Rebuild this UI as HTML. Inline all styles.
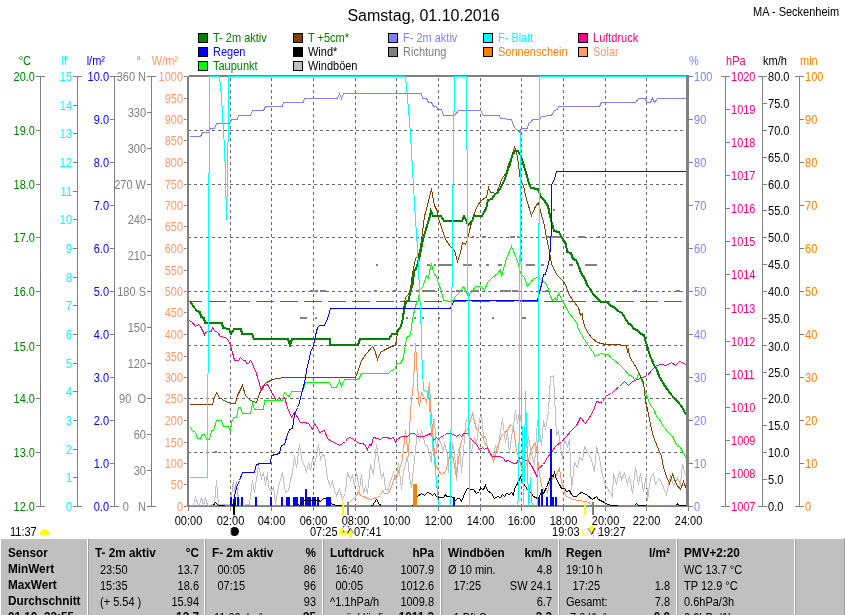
<!DOCTYPE html>
<html><head><meta charset="utf-8"><style>
html,body{margin:0;padding:0;background:#fff;}
polyline{shape-rendering:crispEdges;}
text{white-space:pre;}
svg{display:block;will-change:transform;font-family:"Liberation Sans", sans-serif;font-size:12px;}
</style></head><body>
<svg width="845" height="615" viewBox="0 0 845 615">
<text x="423.5" y="21" fill="#000" text-anchor="middle" font-size="16">Samstag, 01.10.2016</text>
<text transform="scale(0.9167 1)" x="821.45" y="16" fill="#000">MA - Seckenheim</text>
<rect x="198.5" y="33.5" width="9" height="9" fill="#008000" stroke="#000" stroke-width="1"/>
<text transform="scale(0.9167 1)" x="232.36" y="42" fill="#008000">T- 2m aktiv</text>
<rect x="198.5" y="47.5" width="9" height="9" fill="#0000ff" stroke="#000" stroke-width="1"/>
<text transform="scale(0.9167 1)" x="232.36" y="56" fill="#0000ff">Regen</text>
<rect x="198.5" y="61.5" width="9" height="9" fill="#00ff00" stroke="#000" stroke-width="1"/>
<text transform="scale(0.9167 1)" x="232.36" y="70" fill="#008000">Taupunkt</text>
<rect x="293.5" y="33.5" width="9" height="9" fill="#804000" stroke="#000" stroke-width="1"/>
<text transform="scale(0.9167 1)" x="336.00" y="42" fill="#008000">T +5cm*</text>
<rect x="293.5" y="47.5" width="9" height="9" fill="#000" stroke="#000" stroke-width="1"/>
<text transform="scale(0.9167 1)" x="336.00" y="56" fill="#000">Wind*</text>
<rect x="293.5" y="61.5" width="9" height="9" fill="#c0c0c0" stroke="#000" stroke-width="1"/>
<text transform="scale(0.9167 1)" x="336.00" y="70" fill="#000">Windböen</text>
<rect x="388.5" y="33.5" width="9" height="9" fill="#8080ff" stroke="#000" stroke-width="1"/>
<text transform="scale(0.9167 1)" x="439.64" y="42" fill="#8080ff">F- 2m aktiv</text>
<rect x="388.5" y="47.5" width="9" height="9" fill="#808080" stroke="#000" stroke-width="1"/>
<text transform="scale(0.9167 1)" x="439.64" y="56" fill="#808080">Richtung</text>
<rect x="483.5" y="33.5" width="9" height="9" fill="#00ffff" stroke="#000" stroke-width="1"/>
<text transform="scale(0.9167 1)" x="543.27" y="42" fill="#00ffff">F- Blatt</text>
<rect x="483.5" y="47.5" width="9" height="9" fill="#ff8000" stroke="#000" stroke-width="1"/>
<text transform="scale(0.9167 1)" x="543.27" y="56" fill="#ff8000">Sonnenschein</text>
<rect x="578.5" y="33.5" width="9" height="9" fill="#ff0080" stroke="#000" stroke-width="1"/>
<text transform="scale(0.9167 1)" x="646.91" y="42" fill="#ff0080">Luftdruck</text>
<rect x="578.5" y="47.5" width="9" height="9" fill="#ff9966" stroke="#000" stroke-width="1"/>
<text transform="scale(0.9167 1)" x="646.91" y="56" fill="#ff9966">Solar</text>
<text transform="scale(0.9167 1)" x="33.82" y="65" fill="#008000" text-anchor="end">°C</text>
<text transform="scale(0.9167 1)" x="73.09" y="65" fill="#00ffff" text-anchor="end">lf</text>
<text transform="scale(0.9167 1)" x="114.55" y="65" fill="#0000ff" text-anchor="end">l/m²</text>
<text transform="scale(0.9167 1)" x="153.82" y="65" fill="#808080" text-anchor="end">°</text>
<text transform="scale(0.9167 1)" x="194.18" y="65" fill="#ff9966" text-anchor="end">W/m²</text>
<text transform="scale(0.9167 1)" x="751.64" y="65" fill="#8080ff">%</text>
<text transform="scale(0.9167 1)" x="792.00" y="65" fill="#ff0080">hPa</text>
<text transform="scale(0.9167 1)" x="832.36" y="65" fill="#000">km/h</text>
<text transform="scale(0.9167 1)" x="872.73" y="65" fill="#ff8000">min</text>
<line x1="40.5" y1="76" x2="40.5" y2="507" stroke="#808080" stroke-width="1"/>
<line x1="36" y1="76.5" x2="45" y2="76.5" stroke="#808080" stroke-width="1"/>
<text transform="scale(0.9167 1)" x="38.18" y="81.5" fill="#008000" text-anchor="end">20.0</text>
<line x1="36" y1="130.5" x2="40.5" y2="130.5" stroke="#808080" stroke-width="1"/>
<text transform="scale(0.9167 1)" x="38.18" y="135.5" fill="#008000" text-anchor="end">19.0</text>
<line x1="36" y1="184.5" x2="40.5" y2="184.5" stroke="#808080" stroke-width="1"/>
<text transform="scale(0.9167 1)" x="38.18" y="189.5" fill="#008000" text-anchor="end">18.0</text>
<line x1="36" y1="237.5" x2="40.5" y2="237.5" stroke="#808080" stroke-width="1"/>
<text transform="scale(0.9167 1)" x="38.18" y="242.5" fill="#008000" text-anchor="end">17.0</text>
<line x1="36" y1="291.5" x2="40.5" y2="291.5" stroke="#808080" stroke-width="1"/>
<text transform="scale(0.9167 1)" x="38.18" y="296.5" fill="#008000" text-anchor="end">16.0</text>
<line x1="36" y1="345.5" x2="40.5" y2="345.5" stroke="#808080" stroke-width="1"/>
<text transform="scale(0.9167 1)" x="38.18" y="350.5" fill="#008000" text-anchor="end">15.0</text>
<line x1="36" y1="398.5" x2="40.5" y2="398.5" stroke="#808080" stroke-width="1"/>
<text transform="scale(0.9167 1)" x="38.18" y="403.5" fill="#008000" text-anchor="end">14.0</text>
<line x1="36" y1="452.5" x2="40.5" y2="452.5" stroke="#808080" stroke-width="1"/>
<text transform="scale(0.9167 1)" x="38.18" y="457.5" fill="#008000" text-anchor="end">13.0</text>
<line x1="36" y1="506.5" x2="45" y2="506.5" stroke="#808080" stroke-width="1"/>
<text transform="scale(0.9167 1)" x="38.18" y="511.5" fill="#008000" text-anchor="end">12.0</text>
<line x1="77.5" y1="76" x2="77.5" y2="507" stroke="#808080" stroke-width="1"/>
<line x1="73" y1="76.5" x2="82" y2="76.5" stroke="#808080" stroke-width="1"/>
<text transform="scale(0.9167 1)" x="78.55" y="81.5" fill="#00ffff" text-anchor="end">15</text>
<line x1="73" y1="105.5" x2="77.5" y2="105.5" stroke="#808080" stroke-width="1"/>
<text transform="scale(0.9167 1)" x="78.55" y="110.5" fill="#00ffff" text-anchor="end">14</text>
<line x1="73" y1="133.5" x2="77.5" y2="133.5" stroke="#808080" stroke-width="1"/>
<text transform="scale(0.9167 1)" x="78.55" y="138.5" fill="#00ffff" text-anchor="end">13</text>
<line x1="73" y1="162.5" x2="77.5" y2="162.5" stroke="#808080" stroke-width="1"/>
<text transform="scale(0.9167 1)" x="78.55" y="167.5" fill="#00ffff" text-anchor="end">12</text>
<line x1="73" y1="191.5" x2="77.5" y2="191.5" stroke="#808080" stroke-width="1"/>
<text transform="scale(0.9167 1)" x="78.55" y="196.5" fill="#00ffff" text-anchor="end">11</text>
<line x1="73" y1="219.5" x2="77.5" y2="219.5" stroke="#808080" stroke-width="1"/>
<text transform="scale(0.9167 1)" x="78.55" y="224.5" fill="#00ffff" text-anchor="end">10</text>
<line x1="73" y1="248.5" x2="77.5" y2="248.5" stroke="#808080" stroke-width="1"/>
<text transform="scale(0.9167 1)" x="78.55" y="253.5" fill="#00ffff" text-anchor="end">9</text>
<line x1="73" y1="277.5" x2="77.5" y2="277.5" stroke="#808080" stroke-width="1"/>
<text transform="scale(0.9167 1)" x="78.55" y="282.5" fill="#00ffff" text-anchor="end">8</text>
<line x1="73" y1="305.5" x2="77.5" y2="305.5" stroke="#808080" stroke-width="1"/>
<text transform="scale(0.9167 1)" x="78.55" y="310.5" fill="#00ffff" text-anchor="end">7</text>
<line x1="73" y1="334.5" x2="77.5" y2="334.5" stroke="#808080" stroke-width="1"/>
<text transform="scale(0.9167 1)" x="78.55" y="339.5" fill="#00ffff" text-anchor="end">6</text>
<line x1="73" y1="363.5" x2="77.5" y2="363.5" stroke="#808080" stroke-width="1"/>
<text transform="scale(0.9167 1)" x="78.55" y="368.5" fill="#00ffff" text-anchor="end">5</text>
<line x1="73" y1="391.5" x2="77.5" y2="391.5" stroke="#808080" stroke-width="1"/>
<text transform="scale(0.9167 1)" x="78.55" y="396.5" fill="#00ffff" text-anchor="end">4</text>
<line x1="73" y1="420.5" x2="77.5" y2="420.5" stroke="#808080" stroke-width="1"/>
<text transform="scale(0.9167 1)" x="78.55" y="425.5" fill="#00ffff" text-anchor="end">3</text>
<line x1="73" y1="449.5" x2="77.5" y2="449.5" stroke="#808080" stroke-width="1"/>
<text transform="scale(0.9167 1)" x="78.55" y="454.5" fill="#00ffff" text-anchor="end">2</text>
<line x1="73" y1="477.5" x2="77.5" y2="477.5" stroke="#808080" stroke-width="1"/>
<text transform="scale(0.9167 1)" x="78.55" y="482.5" fill="#00ffff" text-anchor="end">1</text>
<line x1="73" y1="506.5" x2="82" y2="506.5" stroke="#808080" stroke-width="1"/>
<text transform="scale(0.9167 1)" x="78.55" y="511.5" fill="#00ffff" text-anchor="end">0</text>
<line x1="114.5" y1="76" x2="114.5" y2="507" stroke="#808080" stroke-width="1"/>
<line x1="110" y1="76.5" x2="119" y2="76.5" stroke="#808080" stroke-width="1"/>
<text transform="scale(0.9167 1)" x="118.91" y="81.5" fill="#0000ff" text-anchor="end">10.0</text>
<line x1="110" y1="119.5" x2="114.5" y2="119.5" stroke="#808080" stroke-width="1"/>
<text transform="scale(0.9167 1)" x="118.91" y="124.5" fill="#0000ff" text-anchor="end">9.0</text>
<line x1="110" y1="162.5" x2="114.5" y2="162.5" stroke="#808080" stroke-width="1"/>
<text transform="scale(0.9167 1)" x="118.91" y="167.5" fill="#0000ff" text-anchor="end">8.0</text>
<line x1="110" y1="205.5" x2="114.5" y2="205.5" stroke="#808080" stroke-width="1"/>
<text transform="scale(0.9167 1)" x="118.91" y="210.5" fill="#0000ff" text-anchor="end">7.0</text>
<line x1="110" y1="248.5" x2="114.5" y2="248.5" stroke="#808080" stroke-width="1"/>
<text transform="scale(0.9167 1)" x="118.91" y="253.5" fill="#0000ff" text-anchor="end">6.0</text>
<line x1="110" y1="291.5" x2="114.5" y2="291.5" stroke="#808080" stroke-width="1"/>
<text transform="scale(0.9167 1)" x="118.91" y="296.5" fill="#0000ff" text-anchor="end">5.0</text>
<line x1="110" y1="334.5" x2="114.5" y2="334.5" stroke="#808080" stroke-width="1"/>
<text transform="scale(0.9167 1)" x="118.91" y="339.5" fill="#0000ff" text-anchor="end">4.0</text>
<line x1="110" y1="377.5" x2="114.5" y2="377.5" stroke="#808080" stroke-width="1"/>
<text transform="scale(0.9167 1)" x="118.91" y="382.5" fill="#0000ff" text-anchor="end">3.0</text>
<line x1="110" y1="420.5" x2="114.5" y2="420.5" stroke="#808080" stroke-width="1"/>
<text transform="scale(0.9167 1)" x="118.91" y="425.5" fill="#0000ff" text-anchor="end">2.0</text>
<line x1="110" y1="463.5" x2="114.5" y2="463.5" stroke="#808080" stroke-width="1"/>
<text transform="scale(0.9167 1)" x="118.91" y="468.5" fill="#0000ff" text-anchor="end">1.0</text>
<line x1="110" y1="506.5" x2="119" y2="506.5" stroke="#808080" stroke-width="1"/>
<text transform="scale(0.9167 1)" x="118.91" y="511.5" fill="#0000ff" text-anchor="end">0.0</text>
<line x1="151.5" y1="76" x2="151.5" y2="507" stroke="#808080" stroke-width="1"/>
<line x1="147" y1="76.5" x2="156" y2="76.5" stroke="#808080" stroke-width="1"/>
<text transform="scale(0.9167 1)" x="159.27" y="81.5" fill="#808080" text-anchor="end">360 N</text>
<line x1="147" y1="112.5" x2="151.5" y2="112.5" stroke="#808080" stroke-width="1"/>
<text transform="scale(0.9167 1)" x="159.27" y="117.5" fill="#808080" text-anchor="end">330</text>
<line x1="147" y1="148.5" x2="151.5" y2="148.5" stroke="#808080" stroke-width="1"/>
<text transform="scale(0.9167 1)" x="159.27" y="153.5" fill="#808080" text-anchor="end">300</text>
<line x1="147" y1="184.5" x2="151.5" y2="184.5" stroke="#808080" stroke-width="1"/>
<text transform="scale(0.9167 1)" x="159.27" y="189.5" fill="#808080" text-anchor="end">270 W</text>
<line x1="147" y1="219.5" x2="151.5" y2="219.5" stroke="#808080" stroke-width="1"/>
<text transform="scale(0.9167 1)" x="159.27" y="224.5" fill="#808080" text-anchor="end">240</text>
<line x1="147" y1="255.5" x2="151.5" y2="255.5" stroke="#808080" stroke-width="1"/>
<text transform="scale(0.9167 1)" x="159.27" y="260.5" fill="#808080" text-anchor="end">210</text>
<line x1="147" y1="291.5" x2="151.5" y2="291.5" stroke="#808080" stroke-width="1"/>
<text transform="scale(0.9167 1)" x="159.27" y="296.5" fill="#808080" text-anchor="end">180 S</text>
<line x1="147" y1="327.5" x2="151.5" y2="327.5" stroke="#808080" stroke-width="1"/>
<text transform="scale(0.9167 1)" x="159.27" y="332.5" fill="#808080" text-anchor="end">150</text>
<line x1="147" y1="363.5" x2="151.5" y2="363.5" stroke="#808080" stroke-width="1"/>
<text transform="scale(0.9167 1)" x="159.27" y="368.5" fill="#808080" text-anchor="end">120</text>
<line x1="147" y1="398.5" x2="151.5" y2="398.5" stroke="#808080" stroke-width="1"/>
<text transform="scale(0.9167 1)" x="159.27" y="403.5" fill="#808080" text-anchor="end">90  O</text>
<line x1="147" y1="434.5" x2="151.5" y2="434.5" stroke="#808080" stroke-width="1"/>
<text transform="scale(0.9167 1)" x="159.27" y="439.5" fill="#808080" text-anchor="end">60</text>
<line x1="147" y1="470.5" x2="151.5" y2="470.5" stroke="#808080" stroke-width="1"/>
<text transform="scale(0.9167 1)" x="159.27" y="475.5" fill="#808080" text-anchor="end">30</text>
<line x1="147" y1="506.5" x2="156" y2="506.5" stroke="#808080" stroke-width="1"/>
<text transform="scale(0.9167 1)" x="159.27" y="511.5" fill="#808080" text-anchor="end">0   N</text>
<line x1="184" y1="76.5" x2="186.5" y2="76.5" stroke="#808080" stroke-width="1"/>
<text transform="scale(0.9167 1)" x="199.64" y="81.5" fill="#ff9966" text-anchor="end">1000</text>
<line x1="184" y1="98.5" x2="186.5" y2="98.5" stroke="#808080" stroke-width="1"/>
<text transform="scale(0.9167 1)" x="199.64" y="103.5" fill="#ff9966" text-anchor="end">950</text>
<line x1="184" y1="119.5" x2="186.5" y2="119.5" stroke="#808080" stroke-width="1"/>
<text transform="scale(0.9167 1)" x="199.64" y="124.5" fill="#ff9966" text-anchor="end">900</text>
<line x1="184" y1="140.5" x2="186.5" y2="140.5" stroke="#808080" stroke-width="1"/>
<text transform="scale(0.9167 1)" x="199.64" y="145.5" fill="#ff9966" text-anchor="end">850</text>
<line x1="184" y1="162.5" x2="186.5" y2="162.5" stroke="#808080" stroke-width="1"/>
<text transform="scale(0.9167 1)" x="199.64" y="167.5" fill="#ff9966" text-anchor="end">800</text>
<line x1="184" y1="184.5" x2="186.5" y2="184.5" stroke="#808080" stroke-width="1"/>
<text transform="scale(0.9167 1)" x="199.64" y="189.5" fill="#ff9966" text-anchor="end">750</text>
<line x1="184" y1="205.5" x2="186.5" y2="205.5" stroke="#808080" stroke-width="1"/>
<text transform="scale(0.9167 1)" x="199.64" y="210.5" fill="#ff9966" text-anchor="end">700</text>
<line x1="184" y1="226.5" x2="186.5" y2="226.5" stroke="#808080" stroke-width="1"/>
<text transform="scale(0.9167 1)" x="199.64" y="231.5" fill="#ff9966" text-anchor="end">650</text>
<line x1="184" y1="248.5" x2="186.5" y2="248.5" stroke="#808080" stroke-width="1"/>
<text transform="scale(0.9167 1)" x="199.64" y="253.5" fill="#ff9966" text-anchor="end">600</text>
<line x1="184" y1="270.5" x2="186.5" y2="270.5" stroke="#808080" stroke-width="1"/>
<text transform="scale(0.9167 1)" x="199.64" y="275.5" fill="#ff9966" text-anchor="end">550</text>
<line x1="184" y1="291.5" x2="186.5" y2="291.5" stroke="#808080" stroke-width="1"/>
<text transform="scale(0.9167 1)" x="199.64" y="296.5" fill="#ff9966" text-anchor="end">500</text>
<line x1="184" y1="312.5" x2="186.5" y2="312.5" stroke="#808080" stroke-width="1"/>
<text transform="scale(0.9167 1)" x="199.64" y="317.5" fill="#ff9966" text-anchor="end">450</text>
<line x1="184" y1="334.5" x2="186.5" y2="334.5" stroke="#808080" stroke-width="1"/>
<text transform="scale(0.9167 1)" x="199.64" y="339.5" fill="#ff9966" text-anchor="end">400</text>
<line x1="184" y1="356.5" x2="186.5" y2="356.5" stroke="#808080" stroke-width="1"/>
<text transform="scale(0.9167 1)" x="199.64" y="361.5" fill="#ff9966" text-anchor="end">350</text>
<line x1="184" y1="377.5" x2="186.5" y2="377.5" stroke="#808080" stroke-width="1"/>
<text transform="scale(0.9167 1)" x="199.64" y="382.5" fill="#ff9966" text-anchor="end">300</text>
<line x1="184" y1="398.5" x2="186.5" y2="398.5" stroke="#808080" stroke-width="1"/>
<text transform="scale(0.9167 1)" x="199.64" y="403.5" fill="#ff9966" text-anchor="end">250</text>
<line x1="184" y1="420.5" x2="186.5" y2="420.5" stroke="#808080" stroke-width="1"/>
<text transform="scale(0.9167 1)" x="199.64" y="425.5" fill="#ff9966" text-anchor="end">200</text>
<line x1="184" y1="442.5" x2="186.5" y2="442.5" stroke="#808080" stroke-width="1"/>
<text transform="scale(0.9167 1)" x="199.64" y="447.5" fill="#ff9966" text-anchor="end">150</text>
<line x1="184" y1="463.5" x2="186.5" y2="463.5" stroke="#808080" stroke-width="1"/>
<text transform="scale(0.9167 1)" x="199.64" y="468.5" fill="#ff9966" text-anchor="end">100</text>
<line x1="184" y1="484.5" x2="186.5" y2="484.5" stroke="#808080" stroke-width="1"/>
<text transform="scale(0.9167 1)" x="199.64" y="489.5" fill="#ff9966" text-anchor="end">50</text>
<line x1="184" y1="506.5" x2="186.5" y2="506.5" stroke="#808080" stroke-width="1"/>
<text transform="scale(0.9167 1)" x="199.64" y="511.5" fill="#ff9966" text-anchor="end">0</text>
<line x1="687.5" y1="76.5" x2="693" y2="76.5" stroke="#808080" stroke-width="1"/>
<text transform="scale(0.9167 1)" x="757.09" y="81.5" fill="#8080ff">100</text>
<line x1="687.5" y1="119.5" x2="693" y2="119.5" stroke="#808080" stroke-width="1"/>
<text transform="scale(0.9167 1)" x="757.09" y="124.5" fill="#8080ff">90</text>
<line x1="687.5" y1="162.5" x2="693" y2="162.5" stroke="#808080" stroke-width="1"/>
<text transform="scale(0.9167 1)" x="757.09" y="167.5" fill="#8080ff">80</text>
<line x1="687.5" y1="205.5" x2="693" y2="205.5" stroke="#808080" stroke-width="1"/>
<text transform="scale(0.9167 1)" x="757.09" y="210.5" fill="#8080ff">70</text>
<line x1="687.5" y1="248.5" x2="693" y2="248.5" stroke="#808080" stroke-width="1"/>
<text transform="scale(0.9167 1)" x="757.09" y="253.5" fill="#8080ff">60</text>
<line x1="687.5" y1="291.5" x2="693" y2="291.5" stroke="#808080" stroke-width="1"/>
<text transform="scale(0.9167 1)" x="757.09" y="296.5" fill="#8080ff">50</text>
<line x1="687.5" y1="334.5" x2="693" y2="334.5" stroke="#808080" stroke-width="1"/>
<text transform="scale(0.9167 1)" x="757.09" y="339.5" fill="#8080ff">40</text>
<line x1="687.5" y1="377.5" x2="693" y2="377.5" stroke="#808080" stroke-width="1"/>
<text transform="scale(0.9167 1)" x="757.09" y="382.5" fill="#8080ff">30</text>
<line x1="687.5" y1="420.5" x2="693" y2="420.5" stroke="#808080" stroke-width="1"/>
<text transform="scale(0.9167 1)" x="757.09" y="425.5" fill="#8080ff">20</text>
<line x1="687.5" y1="463.5" x2="693" y2="463.5" stroke="#808080" stroke-width="1"/>
<text transform="scale(0.9167 1)" x="757.09" y="468.5" fill="#8080ff">10</text>
<line x1="687.5" y1="506.5" x2="693" y2="506.5" stroke="#808080" stroke-width="1"/>
<text transform="scale(0.9167 1)" x="757.09" y="511.5" fill="#8080ff">0</text>
<line x1="725.5" y1="76" x2="725.5" y2="507" stroke="#808080" stroke-width="1"/>
<line x1="721" y1="76.5" x2="730" y2="76.5" stroke="#808080" stroke-width="1"/>
<text transform="scale(0.9167 1)" x="797.45" y="81.5" fill="#ff0080">1020</text>
<line x1="725.5" y1="109.5" x2="730" y2="109.5" stroke="#808080" stroke-width="1"/>
<text transform="scale(0.9167 1)" x="797.45" y="114.5" fill="#ff0080">1019</text>
<line x1="725.5" y1="142.5" x2="730" y2="142.5" stroke="#808080" stroke-width="1"/>
<text transform="scale(0.9167 1)" x="797.45" y="147.5" fill="#ff0080">1018</text>
<line x1="725.5" y1="175.5" x2="730" y2="175.5" stroke="#808080" stroke-width="1"/>
<text transform="scale(0.9167 1)" x="797.45" y="180.5" fill="#ff0080">1017</text>
<line x1="725.5" y1="208.5" x2="730" y2="208.5" stroke="#808080" stroke-width="1"/>
<text transform="scale(0.9167 1)" x="797.45" y="213.5" fill="#ff0080">1016</text>
<line x1="725.5" y1="241.5" x2="730" y2="241.5" stroke="#808080" stroke-width="1"/>
<text transform="scale(0.9167 1)" x="797.45" y="246.5" fill="#ff0080">1015</text>
<line x1="725.5" y1="274.5" x2="730" y2="274.5" stroke="#808080" stroke-width="1"/>
<text transform="scale(0.9167 1)" x="797.45" y="279.5" fill="#ff0080">1014</text>
<line x1="725.5" y1="308.5" x2="730" y2="308.5" stroke="#808080" stroke-width="1"/>
<text transform="scale(0.9167 1)" x="797.45" y="313.5" fill="#ff0080">1013</text>
<line x1="725.5" y1="341.5" x2="730" y2="341.5" stroke="#808080" stroke-width="1"/>
<text transform="scale(0.9167 1)" x="797.45" y="346.5" fill="#ff0080">1012</text>
<line x1="725.5" y1="374.5" x2="730" y2="374.5" stroke="#808080" stroke-width="1"/>
<text transform="scale(0.9167 1)" x="797.45" y="379.5" fill="#ff0080">1011</text>
<line x1="725.5" y1="407.5" x2="730" y2="407.5" stroke="#808080" stroke-width="1"/>
<text transform="scale(0.9167 1)" x="797.45" y="412.5" fill="#ff0080">1010</text>
<line x1="725.5" y1="440.5" x2="730" y2="440.5" stroke="#808080" stroke-width="1"/>
<text transform="scale(0.9167 1)" x="797.45" y="445.5" fill="#ff0080">1009</text>
<line x1="725.5" y1="473.5" x2="730" y2="473.5" stroke="#808080" stroke-width="1"/>
<text transform="scale(0.9167 1)" x="797.45" y="478.5" fill="#ff0080">1008</text>
<line x1="721" y1="506.5" x2="730" y2="506.5" stroke="#808080" stroke-width="1"/>
<text transform="scale(0.9167 1)" x="797.45" y="511.5" fill="#ff0080">1007</text>
<line x1="762.5" y1="76" x2="762.5" y2="507" stroke="#808080" stroke-width="1"/>
<line x1="758" y1="76.5" x2="767" y2="76.5" stroke="#808080" stroke-width="1"/>
<text transform="scale(0.9167 1)" x="837.82" y="81.5" fill="#000">80.0</text>
<line x1="762.5" y1="103.5" x2="767" y2="103.5" stroke="#808080" stroke-width="1"/>
<text transform="scale(0.9167 1)" x="837.82" y="108.5" fill="#000">75.0</text>
<line x1="762.5" y1="130.5" x2="767" y2="130.5" stroke="#808080" stroke-width="1"/>
<text transform="scale(0.9167 1)" x="837.82" y="135.5" fill="#000">70.0</text>
<line x1="762.5" y1="157.5" x2="767" y2="157.5" stroke="#808080" stroke-width="1"/>
<text transform="scale(0.9167 1)" x="837.82" y="162.5" fill="#000">65.0</text>
<line x1="762.5" y1="184.5" x2="767" y2="184.5" stroke="#808080" stroke-width="1"/>
<text transform="scale(0.9167 1)" x="837.82" y="189.5" fill="#000">60.0</text>
<line x1="762.5" y1="210.5" x2="767" y2="210.5" stroke="#808080" stroke-width="1"/>
<text transform="scale(0.9167 1)" x="837.82" y="215.5" fill="#000">55.0</text>
<line x1="762.5" y1="237.5" x2="767" y2="237.5" stroke="#808080" stroke-width="1"/>
<text transform="scale(0.9167 1)" x="837.82" y="242.5" fill="#000">50.0</text>
<line x1="762.5" y1="264.5" x2="767" y2="264.5" stroke="#808080" stroke-width="1"/>
<text transform="scale(0.9167 1)" x="837.82" y="269.5" fill="#000">45.0</text>
<line x1="762.5" y1="291.5" x2="767" y2="291.5" stroke="#808080" stroke-width="1"/>
<text transform="scale(0.9167 1)" x="837.82" y="296.5" fill="#000">40.0</text>
<line x1="762.5" y1="318.5" x2="767" y2="318.5" stroke="#808080" stroke-width="1"/>
<text transform="scale(0.9167 1)" x="837.82" y="323.5" fill="#000">35.0</text>
<line x1="762.5" y1="345.5" x2="767" y2="345.5" stroke="#808080" stroke-width="1"/>
<text transform="scale(0.9167 1)" x="837.82" y="350.5" fill="#000">30.0</text>
<line x1="762.5" y1="372.5" x2="767" y2="372.5" stroke="#808080" stroke-width="1"/>
<text transform="scale(0.9167 1)" x="837.82" y="377.5" fill="#000">25.0</text>
<line x1="762.5" y1="398.5" x2="767" y2="398.5" stroke="#808080" stroke-width="1"/>
<text transform="scale(0.9167 1)" x="837.82" y="403.5" fill="#000">20.0</text>
<line x1="762.5" y1="425.5" x2="767" y2="425.5" stroke="#808080" stroke-width="1"/>
<text transform="scale(0.9167 1)" x="837.82" y="430.5" fill="#000">15.0</text>
<line x1="762.5" y1="452.5" x2="767" y2="452.5" stroke="#808080" stroke-width="1"/>
<text transform="scale(0.9167 1)" x="837.82" y="457.5" fill="#000">10.0</text>
<line x1="762.5" y1="479.5" x2="767" y2="479.5" stroke="#808080" stroke-width="1"/>
<text transform="scale(0.9167 1)" x="837.82" y="484.5" fill="#000">5.0</text>
<line x1="758" y1="506.5" x2="767" y2="506.5" stroke="#808080" stroke-width="1"/>
<text transform="scale(0.9167 1)" x="837.82" y="511.5" fill="#000">0.0</text>
<line x1="799.5" y1="76" x2="799.5" y2="507" stroke="#808080" stroke-width="1"/>
<line x1="795" y1="76.5" x2="804" y2="76.5" stroke="#808080" stroke-width="1"/>
<text transform="scale(0.9167 1)" x="878.18" y="81.5" fill="#ff8000">100</text>
<line x1="799.5" y1="119.5" x2="804" y2="119.5" stroke="#808080" stroke-width="1"/>
<text transform="scale(0.9167 1)" x="878.18" y="124.5" fill="#ff8000">90</text>
<line x1="799.5" y1="162.5" x2="804" y2="162.5" stroke="#808080" stroke-width="1"/>
<text transform="scale(0.9167 1)" x="878.18" y="167.5" fill="#ff8000">80</text>
<line x1="799.5" y1="205.5" x2="804" y2="205.5" stroke="#808080" stroke-width="1"/>
<text transform="scale(0.9167 1)" x="878.18" y="210.5" fill="#ff8000">70</text>
<line x1="799.5" y1="248.5" x2="804" y2="248.5" stroke="#808080" stroke-width="1"/>
<text transform="scale(0.9167 1)" x="878.18" y="253.5" fill="#ff8000">60</text>
<line x1="799.5" y1="291.5" x2="804" y2="291.5" stroke="#808080" stroke-width="1"/>
<text transform="scale(0.9167 1)" x="878.18" y="296.5" fill="#ff8000">50</text>
<line x1="799.5" y1="334.5" x2="804" y2="334.5" stroke="#808080" stroke-width="1"/>
<text transform="scale(0.9167 1)" x="878.18" y="339.5" fill="#ff8000">40</text>
<line x1="799.5" y1="377.5" x2="804" y2="377.5" stroke="#808080" stroke-width="1"/>
<text transform="scale(0.9167 1)" x="878.18" y="382.5" fill="#ff8000">30</text>
<line x1="799.5" y1="420.5" x2="804" y2="420.5" stroke="#808080" stroke-width="1"/>
<text transform="scale(0.9167 1)" x="878.18" y="425.5" fill="#ff8000">20</text>
<line x1="799.5" y1="463.5" x2="804" y2="463.5" stroke="#808080" stroke-width="1"/>
<text transform="scale(0.9167 1)" x="878.18" y="468.5" fill="#ff8000">10</text>
<line x1="795" y1="506.5" x2="804" y2="506.5" stroke="#808080" stroke-width="1"/>
<text transform="scale(0.9167 1)" x="878.18" y="511.5" fill="#ff8000">0</text>
<rect x="189" y="77" width="497" height="429" fill="#fff"/>
<line x1="189" y1="130.5" x2="686" y2="130.5" stroke="#686868" stroke-width="1" stroke-dasharray="3,3" stroke-dashoffset="1"/>
<line x1="189" y1="184.5" x2="686" y2="184.5" stroke="#686868" stroke-width="1" stroke-dasharray="3,3" stroke-dashoffset="1"/>
<line x1="189" y1="237.5" x2="686" y2="237.5" stroke="#686868" stroke-width="1" stroke-dasharray="3,3" stroke-dashoffset="1"/>
<line x1="189" y1="291.5" x2="686" y2="291.5" stroke="#686868" stroke-width="1" stroke-dasharray="3,3" stroke-dashoffset="1"/>
<line x1="189" y1="345.5" x2="686" y2="345.5" stroke="#686868" stroke-width="1" stroke-dasharray="3,3" stroke-dashoffset="1"/>
<line x1="189" y1="398.5" x2="686" y2="398.5" stroke="#686868" stroke-width="1" stroke-dasharray="3,3" stroke-dashoffset="1"/>
<line x1="189" y1="452.5" x2="686" y2="452.5" stroke="#686868" stroke-width="1" stroke-dasharray="3,3" stroke-dashoffset="1"/>
<line x1="230.5" y1="77" x2="230.5" y2="505" stroke="#686868" stroke-width="1" stroke-dasharray="3,3" stroke-dashoffset="5"/>
<line x1="271.5" y1="77" x2="271.5" y2="505" stroke="#686868" stroke-width="1" stroke-dasharray="3,3" stroke-dashoffset="5"/>
<line x1="313.5" y1="77" x2="313.5" y2="505" stroke="#686868" stroke-width="1" stroke-dasharray="3,3" stroke-dashoffset="5"/>
<line x1="355.5" y1="77" x2="355.5" y2="505" stroke="#686868" stroke-width="1" stroke-dasharray="3,3" stroke-dashoffset="5"/>
<line x1="396.5" y1="77" x2="396.5" y2="505" stroke="#686868" stroke-width="1" stroke-dasharray="3,3" stroke-dashoffset="5"/>
<line x1="438.5" y1="77" x2="438.5" y2="505" stroke="#686868" stroke-width="1" stroke-dasharray="3,3" stroke-dashoffset="5"/>
<line x1="480.5" y1="77" x2="480.5" y2="505" stroke="#686868" stroke-width="1" stroke-dasharray="3,3" stroke-dashoffset="5"/>
<line x1="521.5" y1="77" x2="521.5" y2="505" stroke="#686868" stroke-width="1" stroke-dasharray="3,3" stroke-dashoffset="5"/>
<line x1="563.5" y1="77" x2="563.5" y2="505" stroke="#686868" stroke-width="1" stroke-dasharray="3,3" stroke-dashoffset="5"/>
<line x1="605.5" y1="77" x2="605.5" y2="505" stroke="#686868" stroke-width="1" stroke-dasharray="3,3" stroke-dashoffset="5"/>
<line x1="646.5" y1="77" x2="646.5" y2="505" stroke="#686868" stroke-width="1" stroke-dasharray="3,3" stroke-dashoffset="5"/>
<rect x="187" y="76" width="2" height="431" fill="#808080"/>
<rect x="189" y="75" width="499" height="2" fill="#808080"/>
<rect x="187" y="505" width="501" height="2" fill="#808080"/>
<defs><clipPath id="pc"><rect x="189" y="76" width="497" height="430"/></clipPath></defs>
<g clip-path="url(#pc)">
<rect x="472" y="236" width="2" height="2" fill="#808080"/>
<rect x="482" y="236" width="4" height="2" fill="#808080"/>
<rect x="510" y="236" width="5" height="2" fill="#808080"/>
<rect x="517" y="236" width="2" height="2" fill="#808080"/>
<rect x="547" y="236" width="15" height="2" fill="#808080"/>
<rect x="578" y="236" width="7" height="2" fill="#808080"/>
<rect x="598" y="236" width="2" height="2" fill="#808080"/>
<rect x="376" y="264" width="2" height="2" fill="#808080"/>
<rect x="427" y="264" width="3" height="2" fill="#808080"/>
<rect x="434" y="264" width="2" height="2" fill="#808080"/>
<rect x="438" y="264" width="15" height="2" fill="#808080"/>
<rect x="463" y="264" width="4" height="2" fill="#808080"/>
<rect x="468" y="264" width="4" height="2" fill="#808080"/>
<rect x="479" y="264" width="2" height="2" fill="#808080"/>
<rect x="486" y="264" width="3" height="2" fill="#808080"/>
<rect x="498" y="264" width="4" height="2" fill="#808080"/>
<rect x="526" y="264" width="9" height="2" fill="#808080"/>
<rect x="541" y="264" width="3" height="2" fill="#808080"/>
<rect x="569" y="264" width="4" height="2" fill="#808080"/>
<rect x="577" y="264" width="2" height="2" fill="#808080"/>
<rect x="585" y="264" width="12" height="2" fill="#808080"/>
<rect x="310" y="290" width="3" height="2" fill="#808080"/>
<rect x="315" y="290" width="3" height="2" fill="#808080"/>
<rect x="320" y="290" width="6" height="2" fill="#808080"/>
<rect x="374" y="290" width="3" height="2" fill="#808080"/>
<rect x="393" y="290" width="3" height="2" fill="#808080"/>
<rect x="416" y="290" width="4" height="2" fill="#808080"/>
<rect x="422" y="290" width="13" height="2" fill="#808080"/>
<rect x="456" y="290" width="7" height="2" fill="#808080"/>
<rect x="471" y="290" width="8" height="2" fill="#808080"/>
<rect x="500" y="290" width="11" height="2" fill="#808080"/>
<rect x="512" y="290" width="6" height="2" fill="#808080"/>
<rect x="545" y="290" width="3" height="2" fill="#808080"/>
<rect x="634" y="290" width="3" height="2" fill="#808080"/>
<rect x="676" y="290" width="4" height="2" fill="#808080"/>
<rect x="300" y="317" width="7" height="2" fill="#808080"/>
<rect x="315" y="317" width="2" height="2" fill="#808080"/>
<rect x="406" y="317" width="2" height="2" fill="#808080"/>
<rect x="414" y="317" width="2" height="2" fill="#808080"/>
<rect x="422" y="317" width="2" height="2" fill="#808080"/>
<rect x="438" y="317" width="2" height="2" fill="#808080"/>
<rect x="492" y="317" width="2" height="2" fill="#808080"/>
<rect x="521" y="317" width="5" height="2" fill="#808080"/>
<rect x="553" y="209" width="2" height="2" fill="#808080"/>
<rect x="214" y="451" width="3" height="2" fill="#808080"/>
<polyline points="189.5,505.5 193.5,505.5 195.5,497.5 198.5,505.5 199.5,505.5 201.5,497.5 203.5,505.5 205.5,497.5 207.5,505.5 214.5,504.5 216.5,480.5 218.5,504.5 230.5,504.5 233.5,480.5 234.5,492.5 236.5,481.5 237.5,493.5 240.5,505.5 249.5,504.5 252.5,480.5 254.5,492.5 258.5,465.5 261.5,478.5 263.5,472.5 265.5,485.5 267.5,472.5 268.5,487.5 271.5,491.5 273.5,486.5 275.5,504.5 278.5,486.5 282.5,472.5 285.5,492.5 288.5,490.5 290.5,480.5 292.5,472.5 294.5,455.5 296.5,467.5 299.5,444.5 302.5,462.5 304.5,465.5 306.5,472.5 308.5,462.5 310.5,470.5 312.5,459.5 314.5,464.5 316.5,455.5 318.5,444.5 320.5,459.5 322.5,454.5 324.5,455.5 325.5,462.5 327.5,478.5 330.5,486.5 332.5,481.5 334.5,490.5 336.5,495.5 339.5,489.5 342.5,499.5 345.5,492.5 347.5,472.5 350.5,480.5 352.5,474.5 354.5,486.5 356.5,472.5 359.5,489.5 361.5,474.5 363.5,493.5 365.5,486.5 367.5,493.5 370.5,464.5 373.5,474.5 376.5,444.5 378.5,459.5 381.5,477.5 383.5,472.5 385.5,489.5 388.5,489.5 390.5,481.5 393.5,472.5 396.5,481.5 398.5,462.5 401.5,489.5 403.5,471.5 407.5,456.5 409.5,477.5 411.5,487.5 414.5,459.5 417.5,430.5 419.5,441.5 421.5,430.5 425.5,445.5 427.5,445.5 431.5,462.5 433.5,419.5 434.5,419.5 436.5,451.5 438.5,437.5 441.5,445.5 443.5,451.5 444.5,442.5 447.5,454.5 448.5,472.5 449.5,442.5 451.5,457.5 452.5,442.5 454.5,452.5 456.5,480.5 457.5,454.5 459.5,447.5 461.5,472.5 463.5,451.5 465.5,424.5 466.5,419.5 468.5,421.5 470.5,446.5 471.5,451.5 474.5,437.5 476.5,444.5 479.5,419.5 481.5,414.5 483.5,437.5 485.5,436.5 487.5,447.5 489.5,453.5 492.5,458.5 495.5,445.5 497.5,453.5 500.5,431.5 502.5,418.5 505.5,442.5 507.5,431.5 509.5,453.5 511.5,436.5 513.5,425.5 515.5,410.5 517.5,423.5 519.5,411.5 521.5,423.5 523.5,436.5 526.5,447.5 528.5,436.5 530.5,449.5 532.5,458.5 534.5,464.5 537.5,420.5 539.5,431.5 541.5,445.5 543.5,420.5 545.5,429.5 548.5,410.5 550.5,376.5 552.5,376.5 553.5,375.5 556.5,435.5 558.5,430.5 560.5,446.5 562.5,459.5 564.5,439.5 567.5,446.5 569.5,439.5 571.5,489.5 574.5,462.5 577.5,467.5 579.5,457.5 582.5,460.5 584.5,446.5 587.5,451.5 591.5,460.5 594.5,471.5 596.5,446.5 599.5,457.5 602.5,475.5 605.5,485.5 608.5,489.5 612.5,496.5 613.5,473.5 616.5,484.5 619.5,471.5 621.5,479.5 624.5,473.5 627.5,484.5 629.5,476.5 632.5,493.5 635.5,467.5 638.5,484.5 640.5,473.5 643.5,491.5 646.5,475.5 647.5,500.5 650.5,478.5 653.5,473.5 655.5,484.5 659.5,478.5 663.5,487.5 666.5,494.5 670.5,475.5 673.5,485.5 677.5,478.5 680.5,484.5 682.5,464.5 685.5,475.5" fill="none" stroke="#c0c0c0" stroke-width="1"/>
<line x1="189" y1="505.5" x2="686" y2="505.5" stroke="#ff8000" stroke-width="1" stroke-dasharray="2,1,1,1"/>
<polyline points="347.5,504.5 352.5,499.5 356.5,495.5 358.5,491.5 360.5,495.5 363.5,496.5 367.5,498.5 370.5,499.5 373.5,498.5 377.5,497.5 380.5,495.5 382.5,490.5 384.5,493.5 387.5,493.5 390.5,489.5 393.5,480.5 396.5,474.5 398.5,472.5 399.5,467.5 401.5,464.5 403.5,449.5 405.5,430.5 408.5,456.5 410.5,409.5 413.5,382.5 415.5,343.5 416.5,360.5 418.5,400.5 419.5,406.5 421.5,392.5 424.5,397.5 426.5,402.5 429.5,382.5 430.5,405.5 432.5,430.5 435.5,464.5 438.5,470.5 441.5,474.5 445.5,471.5 447.5,464.5 450.5,453.5 453.5,459.5 456.5,477.5 458.5,459.5 460.5,444.5 464.5,432.5 467.5,429.5 472.5,413.5 476.5,429.5 481.5,434.5 485.5,444.5 487.5,446.5 490.5,453.5 493.5,461.5 496.5,449.5 499.5,441.5 501.5,435.5 504.5,433.5 508.5,428.5 510.5,424.5 513.5,427.5 516.5,450.5 519.5,459.5 522.5,471.5 525.5,467.5 528.5,459.5 531.5,449.5 534.5,443.5 536.5,446.5 538.5,467.5 541.5,486.5 544.5,489.5 547.5,492.5 550.5,480.5 555.5,476.5 559.5,468.5 561.5,481.5 565.5,495.5 570.5,498.5 577.5,500.5 585.5,501.5 590.5,503.5 592.5,505.5" fill="none" stroke="#ff9966" stroke-width="1"/>
<line x1="189" y1="301.5" x2="686" y2="301.5" stroke="#ff0080" stroke-width="1" stroke-dasharray="18,6" stroke-dashoffset="5"/>
<polyline points="189.5,320.5 190.5,321.5 191.5,321.5 195.5,326.5 198.5,324.5 200.5,326.5 204.5,334.5 205.5,332.5 208.5,331.5 211.5,331.5 212.5,327.5 214.5,330.5 217.5,332.5 220.5,336.5 225.5,337.5 228.5,340.5 230.5,345.5 232.5,352.5 234.5,360.5 238.5,360.5 240.5,357.5 243.5,360.5 245.5,360.5 246.5,363.5 248.5,363.5 250.5,360.5 252.5,363.5 254.5,369.5 255.5,370.5 258.5,380.5 261.5,390.5 264.5,385.5 267.5,384.5 272.5,393.5 276.5,400.5 279.5,397.5 281.5,400.5 284.5,397.5 287.5,407.5 291.5,417.5 294.5,412.5 296.5,415.5 300.5,422.5 304.5,422.5 308.5,423.5 312.5,429.5 314.5,423.5 318.5,429.5 319.5,432.5 324.5,430.5 327.5,438.5 331.5,441.5 336.5,443.5 339.5,445.5 342.5,443.5 345.5,441.5 347.5,438.5 350.5,437.5 353.5,439.5 356.5,441.5 359.5,443.5 362.5,443.5 364.5,444.5 367.5,449.5 369.5,444.5 371.5,445.5 373.5,437.5 377.5,438.5 380.5,439.5 382.5,437.5 386.5,437.5 390.5,438.5 393.5,437.5 395.5,442.5 397.5,439.5 401.5,436.5 407.5,436.5 410.5,433.5 414.5,433.5 417.5,436.5 423.5,436.5 426.5,435.5 430.5,433.5 433.5,440.5 436.5,437.5 438.5,439.5 441.5,436.5 444.5,435.5 446.5,433.5 450.5,433.5 453.5,434.5 456.5,436.5 459.5,434.5 461.5,436.5 463.5,433.5 467.5,433.5 470.5,438.5 473.5,441.5 476.5,444.5 479.5,449.5 482.5,447.5 484.5,449.5 487.5,447.5 489.5,452.5 492.5,456.5 500.5,456.5 503.5,458.5 505.5,461.5 507.5,460.5 510.5,461.5 513.5,463.5 516.5,463.5 519.5,457.5 522.5,459.5 525.5,460.5 528.5,461.5 531.5,465.5 536.5,475.5 538.5,468.5 543.5,464.5 547.5,457.5 550.5,453.5 555.5,446.5 561.5,441.5 566.5,436.5 571.5,430.5 576.5,425.5 580.5,417.5 585.5,423.5 589.5,417.5 593.5,410.5 596.5,401.5 600.5,402.5 602.5,401.5 606.5,395.5 611.5,393.5 614.5,390.5 619.5,386.5 624.5,381.5 628.5,385.5 632.5,381.5 637.5,379.5 642.5,377.5 647.5,375.5 651.5,370.5 656.5,365.5 661.5,364.5 666.5,365.5 671.5,362.5 675.5,365.5 679.5,361.5 686.5,364.5" fill="none" stroke="#ff0080" stroke-width="1"/>
<polyline points="189.5,136.5 200.5,136.5 202.5,132.5 209.5,132.5 210.5,128.5 214.5,128.5 216.5,123.5 229.5,123.5 231.5,119.5 237.5,119.5 238.5,115.5 250.5,115.5 252.5,110.5 263.5,110.5 265.5,106.5 282.5,106.5 283.5,102.5 303.5,102.5 304.5,98.5 337.5,98.5 339.5,93.5 341.5,98.5 343.5,93.5 421.5,93.5 422.5,98.5 426.5,98.5 428.5,102.5 431.5,102.5 433.5,106.5 436.5,106.5 437.5,109.5 441.5,109.5 443.5,115.5 454.5,115.5 458.5,110.5 480.5,110.5 483.5,115.5 499.5,115.5 500.5,118.5 511.5,119.5 512.5,122.5 514.5,127.5 517.5,130.5 519.5,132.5 521.5,128.5 527.5,128.5 528.5,123.5 531.5,121.5 532.5,119.5 539.5,119.5 541.5,116.5 551.5,115.5 554.5,110.5 557.5,109.5 558.5,106.5 599.5,106.5 601.5,102.5 635.5,102.5 638.5,98.5 645.5,98.5 646.5,102.5 650.5,102.5 652.5,98.5 654.5,102.5 657.5,98.5 686.5,98.5" fill="none" stroke="#8080ff" stroke-width="1"/>
<polyline points="190.5,427.5 192.5,430.5 195.5,432.5 197.5,438.5 200.5,438.5 202.5,434.5 204.5,434.5 206.5,439.5 209.5,439.5 211.5,430.5 213.5,430.5 216.5,420.5 221.5,420.5 223.5,426.5 228.5,426.5 230.5,431.5 231.5,422.5 233.5,417.5 236.5,417.5 238.5,407.5 240.5,407.5 242.5,413.5 250.5,413.5 252.5,403.5 254.5,409.5 263.5,409.5 264.5,400.5 282.5,400.5 284.5,392.5 287.5,395.5 289.5,396.5 291.5,391.5 302.5,391.5 305.5,382.5 329.5,382.5 331.5,387.5 336.5,387.5 339.5,380.5 341.5,386.5 344.5,379.5 358.5,379.5 361.5,373.5 388.5,373.5 390.5,371.5 395.5,368.5 396.5,363.5 400.5,363.5 403.5,357.5 404.5,350.5 406.5,337.5 410.5,335.5 411.5,326.5 413.5,314.5 415.5,306.5 416.5,302.5 418.5,300.5 419.5,290.5 422.5,287.5 424.5,281.5 426.5,275.5 428.5,278.5 429.5,271.5 431.5,263.5 433.5,272.5 436.5,276.5 438.5,283.5 441.5,291.5 443.5,300.5 452.5,301.5 455.5,296.5 459.5,292.5 463.5,286.5 466.5,292.5 468.5,296.5 472.5,290.5 475.5,286.5 481.5,286.5 484.5,290.5 487.5,282.5 492.5,277.5 497.5,273.5 500.5,269.5 501.5,276.5 506.5,258.5 511.5,246.5 516.5,258.5 518.5,264.5 520.5,273.5 524.5,277.5 527.5,286.5 530.5,282.5 533.5,278.5 538.5,277.5 542.5,281.5 545.5,282.5 548.5,289.5 550.5,296.5 552.5,300.5 555.5,297.5 556.5,301.5 558.5,293.5 562.5,300.5 565.5,306.5 569.5,313.5 573.5,318.5 576.5,322.5 578.5,329.5 581.5,334.5 584.5,339.5 588.5,345.5 592.5,351.5 595.5,356.5 600.5,353.5 605.5,354.5 608.5,354.5 611.5,358.5 614.5,360.5 619.5,364.5 624.5,369.5 628.5,374.5 632.5,376.5 634.5,379.5 637.5,377.5 638.5,372.5 640.5,377.5 643.5,385.5 645.5,392.5 648.5,400.5 650.5,405.5 653.5,408.5 656.5,416.5 659.5,419.5 663.5,426.5 668.5,432.5 672.5,436.5 676.5,444.5 680.5,447.5 683.5,453.5 686.5,458.5" fill="none" stroke="#00ff00" stroke-width="1"/>
<polyline points="189.5,404.5 212.5,404.5 214.5,397.5 216.5,392.5 219.5,397.5 225.5,401.5 231.5,403.5 235.5,403.5 237.5,395.5 242.5,385.5 245.5,395.5 250.5,400.5 256.5,402.5 258.5,396.5 261.5,388.5 266.5,382.5 272.5,379.5 283.5,377.5 355.5,377.5 357.5,372.5 359.5,366.5 361.5,360.5 366.5,353.5 372.5,346.5 374.5,349.5 377.5,359.5 380.5,352.5 385.5,349.5 391.5,346.5 395.5,345.5 397.5,333.5 401.5,324.5 403.5,309.5 405.5,297.5 408.5,294.5 410.5,288.5 412.5,273.5 415.5,258.5 418.5,255.5 420.5,246.5 422.5,232.5 424.5,216.5 428.5,201.5 430.5,193.5 431.5,188.5 432.5,195.5 434.5,205.5 437.5,211.5 438.5,218.5 441.5,227.5 445.5,239.5 450.5,246.5 454.5,250.5 457.5,261.5 460.5,252.5 462.5,242.5 465.5,244.5 467.5,239.5 469.5,230.5 472.5,218.5 475.5,210.5 477.5,205.5 481.5,200.5 485.5,197.5 486.5,197.5 488.5,187.5 490.5,192.5 491.5,192.5 496.5,193.5 499.5,185.5 501.5,179.5 503.5,176.5 506.5,172.5 508.5,164.5 511.5,157.5 514.5,147.5 516.5,151.5 517.5,157.5 519.5,172.5 520.5,180.5 523.5,185.5 526.5,199.5 531.5,215.5 535.5,206.5 538.5,202.5 540.5,211.5 544.5,225.5 546.5,237.5 549.5,251.5 551.5,263.5 554.5,270.5 557.5,275.5 562.5,280.5 565.5,284.5 568.5,293.5 573.5,301.5 578.5,307.5 580.5,315.5 582.5,313.5 582.5,318.5 584.5,325.5 587.5,332.5 592.5,338.5 597.5,342.5 605.5,344.5 615.5,344.5 626.5,345.5 627.5,352.5 628.5,348.5 629.5,356.5 632.5,361.5 637.5,369.5 640.5,376.5 643.5,382.5 644.5,390.5 645.5,401.5 647.5,409.5 649.5,419.5 651.5,429.5 654.5,439.5 658.5,449.5 661.5,456.5 663.5,467.5 666.5,476.5 669.5,483.5 672.5,474.5 673.5,476.5 676.5,484.5 680.5,489.5 683.5,481.5 686.5,489.5" fill="none" stroke="#804000" stroke-width="1"/>
<polyline points="190,301 193,306 197,311 200,312 201,317 204,318 205,323 222,323 223,328 229,329 231,334 234,329 241,329 242,334 252,334 254,339 288,339 290,345 292,339 330,339 330,345 358,345 360,339 389,339 392,334 396,334 398,330 400,328 402,323 404,311 406,302 409,300 410,292 413,284 414,271 416,269 419,259 421,249 423,239 427,226 430,216 431,211 433,216 441,216 444,221 462,221 464,216 466,220 468,225 470,223 472,221 474,216 482,216 484,212 486,209 488,200 492,199 495,194 497,193 500,189 502,185 505,179 507,172 510,164 512,156 515,151 518,151 521,156 524,166 527,176 529,184 531,188 538,189 541,197 544,200 548,206 550,216 554,231 559,232 562,238 566,244 567,252 571,253 573,259 576,260 579,267 581,273 585,279 587,285 591,290 593,294 597,298 601,302 607,302 611,306 614,307 618,311 622,313 625,318 628,323 631,325 634,329 637,330 641,334 644,335 645,339 648,349 650,356 651,358 654,365 657,370 659,376 663,383 667,389 670,393 674,398 678,402 682,407 686,415" fill="none" stroke="#008000" stroke-width="2"/>
<polyline points="232.5,506.5 234.5,496.5 236.5,487.5 239.5,480.5 242.5,472.5 254.5,472.5 256.5,464.5 260.5,463.5 270.5,463.5 271.5,455.5 279.5,453.5 281.5,445.5 284.5,444.5 287.5,434.5 289.5,429.5 292.5,428.5 294.5,414.5 297.5,407.5 299.5,402.5 302.5,390.5 304.5,382.5 307.5,365.5 308.5,362.5 310.5,352.5 313.5,345.5 315.5,335.5 317.5,327.5 319.5,325.5 324.5,325.5 327.5,318.5 328.5,315.5 330.5,308.5 450.5,308.5 453.5,301.5 454.5,300.5 537.5,300.5 539.5,292.5 542.5,280.5 543.5,274.5 545.5,274.5 546.5,270.5 549.5,259.5 550.5,244.5 551.5,227.5 551.5,216.5 551.5,185.5 554.5,178.5 556.5,171.5 686.5,171.5" fill="none" stroke="#0000ff" stroke-width="1"/>
<rect x="230" y="497" width="2" height="9" fill="#0000ff"/>
<rect x="234" y="497" width="2" height="9" fill="#0000ff"/>
<rect x="237" y="497" width="2" height="9" fill="#0000ff"/>
<rect x="241" y="497" width="2" height="9" fill="#0000ff"/>
<rect x="255" y="497" width="2" height="9" fill="#0000ff"/>
<rect x="270" y="497" width="2" height="9" fill="#0000ff"/>
<rect x="281" y="497" width="2" height="9" fill="#0000ff"/>
<rect x="286" y="497" width="4" height="9" fill="#0000ff"/>
<rect x="293" y="497" width="5" height="9" fill="#0000ff"/>
<rect x="300" y="497" width="4" height="9" fill="#0000ff"/>
<rect x="305" y="489" width="2" height="17" fill="#0000ff"/>
<rect x="307" y="497" width="4" height="9" fill="#0000ff"/>
<rect x="312" y="497" width="4" height="9" fill="#0000ff"/>
<rect x="317" y="497" width="2" height="9" fill="#0000ff"/>
<rect x="326" y="497" width="3" height="9" fill="#0000ff"/>
<rect x="329" y="497" width="2" height="9" fill="#0000ff"/>
<rect x="453" y="497" width="2" height="9" fill="#0000ff"/>
<rect x="538" y="497" width="2" height="9" fill="#0000ff"/>
<rect x="541" y="489" width="2" height="17" fill="#0000ff"/>
<rect x="546" y="497" width="2" height="9" fill="#0000ff"/>
<rect x="550" y="429" width="2" height="77" fill="#0000ff"/>
<rect x="552" y="497" width="2" height="9" fill="#0000ff"/>
<rect x="555" y="497" width="2" height="9" fill="#0000ff"/>
<polyline points="213.5,505.5 214.5,503.5 215.5,502.5 217.5,504.5 218.5,505.5 224.5,505.5" fill="none" stroke="#000" stroke-width="1"/>
<polyline points="296.5,503.5 297.5,503.5 299.5,505.5 301.5,503.5 303.5,500.5 318.5,500.5 320.5,501.5 323.5,498.5 325.5,498.5 327.5,500.5 330.5,503.5 333.5,504.5 336.5,505.5 342.5,505.5" fill="none" stroke="#000" stroke-width="1"/>
<polyline points="370.5,505.5 372.5,505.5 376.5,499.5 379.5,504.5 381.5,505.5" fill="none" stroke="#000" stroke-width="1"/>
<polyline points="411.5,505.5 413.5,505.5 414.5,496.5 417.5,496.5 421.5,493.5 424.5,495.5 427.5,492.5 430.5,493.5 432.5,495.5 434.5,493.5 436.5,496.5 437.5,496.5 439.5,497.5 443.5,497.5 445.5,494.5 446.5,496.5 450.5,496.5 453.5,497.5 455.5,500.5 457.5,498.5 459.5,498.5 461.5,501.5 463.5,496.5 465.5,491.5 467.5,488.5 470.5,489.5 473.5,489.5 476.5,493.5 479.5,491.5 480.5,487.5 482.5,489.5 483.5,489.5 485.5,485.5 487.5,490.5 491.5,493.5 494.5,498.5 497.5,496.5 500.5,497.5 502.5,494.5 504.5,496.5 506.5,493.5 509.5,494.5 511.5,492.5 513.5,495.5 514.5,488.5 516.5,485.5 520.5,477.5 522.5,482.5 525.5,486.5 527.5,489.5 530.5,492.5 533.5,496.5 537.5,498.5 539.5,496.5 541.5,491.5 543.5,493.5 546.5,487.5 549.5,479.5 551.5,475.5 553.5,476.5 554.5,472.5 556.5,479.5 559.5,484.5 561.5,488.5 564.5,488.5 566.5,491.5 569.5,490.5 571.5,494.5 573.5,496.5 576.5,496.5 579.5,493.5 581.5,492.5 584.5,493.5 587.5,495.5 592.5,499.5 596.5,496.5 598.5,499.5 604.5,502.5 607.5,504.5 612.5,505.5 617.5,505.5" fill="none" stroke="#000" stroke-width="1"/>
<polyline points="634.5,505.5 636.5,503.5 638.5,505.5 645.5,505.5" fill="none" stroke="#000" stroke-width="1"/>
<polyline points="676.5,505.5 677.5,503.5 679.5,505.5 686.5,505.5" fill="none" stroke="#000" stroke-width="1"/>
<polyline points="189.5,477.5 207.5,477.5 209.5,76.5 219.5,76.5 221.5,97.5 222.5,114.5 224.5,147.5 225.5,176.5 226.5,219.5 226.5,219.5 227.5,176.5 228.5,109.5 228.5,76.5 405.5,76.5 407.5,97.5 410.5,133.5 412.5,169.5 414.5,202.5 415.5,220.5 417.5,247.5 420.5,311.5 421.5,335.5 421.5,349.5 423.5,390.5 428.5,391.5 430.5,420.5 431.5,432.5 435.5,469.5 438.5,506.5 450.5,506.5 451.5,358.5 452.5,220.5 454.5,76.5 466.5,76.5 467.5,220.5 468.5,362.5 469.5,506.5 516.5,506.5 518.5,499.5 519.5,390.5 520.5,132.5 521.5,390.5 522.5,460.5 523.5,506.5 524.5,460.5 525.5,391.5 526.5,430.5 527.5,460.5 528.5,506.5 529.5,499.5 530.5,477.5 531.5,499.5 532.5,506.5 537.5,506.5 538.5,380.5 539.5,76.5 686.5,76.5" fill="none" stroke="#00ffff" stroke-width="1"/>
<rect x="413" y="484" width="4" height="22" fill="#ff8000"/>
</g>
<rect x="686" y="75" width="3" height="432" fill="#808080"/>
<line x1="188.5" y1="507" x2="188.5" y2="511" stroke="#808080" stroke-width="1"/>
<text transform="scale(0.9167 1)" x="205.64" y="525" fill="#000" text-anchor="middle">00:00</text>
<line x1="230.5" y1="507" x2="230.5" y2="511" stroke="#808080" stroke-width="1"/>
<text transform="scale(0.9167 1)" x="251.45" y="525" fill="#000" text-anchor="middle">02:00</text>
<line x1="271.5" y1="507" x2="271.5" y2="511" stroke="#808080" stroke-width="1"/>
<text transform="scale(0.9167 1)" x="296.18" y="525" fill="#000" text-anchor="middle">04:00</text>
<line x1="313.5" y1="507" x2="313.5" y2="511" stroke="#808080" stroke-width="1"/>
<text transform="scale(0.9167 1)" x="342.00" y="525" fill="#000" text-anchor="middle">06:00</text>
<line x1="355.5" y1="507" x2="355.5" y2="511" stroke="#808080" stroke-width="1"/>
<text transform="scale(0.9167 1)" x="387.82" y="525" fill="#000" text-anchor="middle">08:00</text>
<line x1="396.5" y1="507" x2="396.5" y2="511" stroke="#808080" stroke-width="1"/>
<text transform="scale(0.9167 1)" x="432.55" y="525" fill="#000" text-anchor="middle">10:00</text>
<line x1="438.5" y1="507" x2="438.5" y2="511" stroke="#808080" stroke-width="1"/>
<text transform="scale(0.9167 1)" x="478.36" y="525" fill="#000" text-anchor="middle">12:00</text>
<line x1="480.5" y1="507" x2="480.5" y2="511" stroke="#808080" stroke-width="1"/>
<text transform="scale(0.9167 1)" x="524.18" y="525" fill="#000" text-anchor="middle">14:00</text>
<line x1="521.5" y1="507" x2="521.5" y2="511" stroke="#808080" stroke-width="1"/>
<text transform="scale(0.9167 1)" x="568.91" y="525" fill="#000" text-anchor="middle">16:00</text>
<line x1="563.5" y1="507" x2="563.5" y2="511" stroke="#808080" stroke-width="1"/>
<text transform="scale(0.9167 1)" x="614.73" y="525" fill="#000" text-anchor="middle">18:00</text>
<line x1="605.5" y1="507" x2="605.5" y2="511" stroke="#808080" stroke-width="1"/>
<text transform="scale(0.9167 1)" x="660.55" y="525" fill="#000" text-anchor="middle">20:00</text>
<line x1="646.5" y1="507" x2="646.5" y2="511" stroke="#808080" stroke-width="1"/>
<text transform="scale(0.9167 1)" x="705.27" y="525" fill="#000" text-anchor="middle">22:00</text>
<line x1="688.5" y1="507" x2="688.5" y2="511" stroke="#808080" stroke-width="1"/>
<text transform="scale(0.9167 1)" x="751.09" y="525" fill="#000" text-anchor="middle">24:00</text>
<rect x="1" y="539" width="843" height="76" fill="#c0c0c0"/>
<rect x="87" y="539" width="1" height="76" fill="#ffffff"/>
<rect x="88" y="539" width="1" height="76" fill="#a09e8e"/>
<rect x="204" y="539" width="1" height="76" fill="#ffffff"/>
<rect x="205" y="539" width="1" height="76" fill="#a09e8e"/>
<rect x="322" y="539" width="1" height="76" fill="#ffffff"/>
<rect x="323" y="539" width="1" height="76" fill="#a09e8e"/>
<rect x="440" y="539" width="1" height="76" fill="#ffffff"/>
<rect x="441" y="539" width="1" height="76" fill="#a09e8e"/>
<rect x="558" y="539" width="1" height="76" fill="#ffffff"/>
<rect x="559" y="539" width="1" height="76" fill="#a09e8e"/>
<rect x="676" y="539" width="1" height="76" fill="#ffffff"/>
<rect x="677" y="539" width="1" height="76" fill="#a09e8e"/>
<rect x="794" y="539" width="1" height="76" fill="#ffffff"/>
<rect x="795" y="539" width="1" height="76" fill="#a09e8e"/>
<rect x="844" y="538" width="1" height="77" fill="#a09e8e"/>
<text transform="scale(0.9800 1)" x="8.16" y="557" fill="#000" font-weight="bold">Sensor</text>
<text transform="scale(0.9800 1)" x="8.16" y="573" fill="#000" font-weight="bold">MinWert</text>
<text transform="scale(0.9800 1)" x="8.16" y="589" fill="#000" font-weight="bold">MaxWert</text>
<text transform="scale(0.9800 1)" x="8.16" y="605" fill="#000" font-weight="bold">Durchschnitt</text>
<text transform="scale(0.9800 1)" x="8.16" y="621" fill="#000" font-weight="bold">01.10. 22:55</text>
<text transform="scale(0.9800 1)" x="96.94" y="557" fill="#000" font-weight="bold">T- 2m aktiv</text>
<text transform="scale(0.9800 1)" x="203.06" y="557" fill="#000" text-anchor="end" font-weight="bold">°C</text>
<text transform="scale(0.9167 1)" x="109.09" y="574" fill="#000">23:50</text>
<text transform="scale(0.9167 1)" x="217.09" y="574" fill="#000" text-anchor="end">13.7</text>
<text transform="scale(0.9167 1)" x="109.09" y="590" fill="#000">15:35</text>
<text transform="scale(0.9167 1)" x="217.09" y="590" fill="#000" text-anchor="end">18.6</text>
<text transform="scale(0.9167 1)" x="109.09" y="606" fill="#000">(+ 5.54 )</text>
<text transform="scale(0.9167 1)" x="217.09" y="606" fill="#000" text-anchor="end">15.94</text>
<text transform="scale(0.9800 1)" x="203.06" y="621" fill="#000" text-anchor="end" font-weight="bold">13.7</text>
<text transform="scale(0.9800 1)" x="216.33" y="557" fill="#000" font-weight="bold">F- 2m aktiv</text>
<text transform="scale(0.9800 1)" x="322.45" y="557" fill="#000" text-anchor="end" font-weight="bold">%</text>
<text transform="scale(0.9167 1)" x="237.27" y="574" fill="#000">00:05</text>
<text transform="scale(0.9167 1)" x="344.73" y="574" fill="#000" text-anchor="end">86</text>
<text transform="scale(0.9167 1)" x="237.27" y="590" fill="#000">07:15</text>
<text transform="scale(0.9167 1)" x="344.73" y="590" fill="#000" text-anchor="end">96</text>
<text transform="scale(0.9167 1)" x="344.73" y="606" fill="#000" text-anchor="end">93</text>
<text transform="scale(0.9167 1)" x="233.45" y="622" fill="#000">11:26  h  ²</text>
<text transform="scale(0.9800 1)" x="322.45" y="621" fill="#000" text-anchor="end" font-weight="bold">95</text>
<text transform="scale(0.9800 1)" x="336.73" y="557" fill="#000" font-weight="bold">Luftdruck</text>
<text transform="scale(0.9800 1)" x="442.86" y="557" fill="#000" text-anchor="end" font-weight="bold">hPa</text>
<text transform="scale(0.9167 1)" x="366.00" y="574" fill="#000">16:40</text>
<text transform="scale(0.9167 1)" x="473.45" y="574" fill="#000" text-anchor="end">1007.9</text>
<text transform="scale(0.9167 1)" x="366.00" y="590" fill="#000">00:05</text>
<text transform="scale(0.9167 1)" x="473.45" y="590" fill="#000" text-anchor="end">1012.6</text>
<text transform="scale(0.9167 1)" x="360.00" y="606" fill="#000">^1.1hPa/h</text>
<text transform="scale(0.9167 1)" x="473.45" y="606" fill="#000" text-anchor="end">1009.8</text>
<text transform="scale(0.9167 1)" x="377.45" y="622" fill="#000">ückläufig</text>
<text transform="scale(0.9800 1)" x="442.86" y="621" fill="#000" text-anchor="end" font-weight="bold">1011.3</text>
<text transform="scale(0.9800 1)" x="457.14" y="557" fill="#000" font-weight="bold">Windböen</text>
<text transform="scale(0.9800 1)" x="563.27" y="557" fill="#000" text-anchor="end" font-weight="bold">km/h</text>
<text transform="scale(0.9167 1)" x="488.73" y="574" fill="#000">Ø 10 min.</text>
<text transform="scale(0.9167 1)" x="602.18" y="574" fill="#000" text-anchor="end">4.8</text>
<text transform="scale(0.9167 1)" x="494.73" y="590" fill="#000">17:25</text>
<text transform="scale(0.9167 1)" x="602.18" y="590" fill="#000" text-anchor="end">SW 24.1</text>
<text transform="scale(0.9167 1)" x="602.18" y="606" fill="#000" text-anchor="end">6.7</text>
<text transform="scale(0.9167 1)" x="494.73" y="622" fill="#000">1 Bft S</text>
<text transform="scale(0.9800 1)" x="563.27" y="621" fill="#000" text-anchor="end" font-weight="bold">3.3</text>
<text transform="scale(0.9800 1)" x="577.55" y="557" fill="#000" font-weight="bold">Regen</text>
<text transform="scale(0.9800 1)" x="683.67" y="557" fill="#000" text-anchor="end" font-weight="bold">l/m²</text>
<text transform="scale(0.9167 1)" x="617.45" y="574" fill="#000">19:10 h</text>
<text transform="scale(0.9167 1)" x="624.55" y="590" fill="#000">17:25</text>
<text transform="scale(0.9167 1)" x="730.91" y="590" fill="#000" text-anchor="end">1.8</text>
<text transform="scale(0.9167 1)" x="617.45" y="606" fill="#000">Gesamt:</text>
<text transform="scale(0.9167 1)" x="730.91" y="606" fill="#000" text-anchor="end">7.8</text>
<text transform="scale(0.9167 1)" x="621.82" y="622" fill="#000">7.8 l/h ²</text>
<text transform="scale(0.9800 1)" x="683.67" y="621" fill="#000" text-anchor="end" font-weight="bold">0.0</text>
<text transform="scale(0.9800 1)" x="697.96" y="557" fill="#000" font-weight="bold">PMV+2:20</text>
<text transform="scale(0.9167 1)" x="746.18" y="574" fill="#000">WC 13.7 °C</text>
<text transform="scale(0.9167 1)" x="746.18" y="590" fill="#000">TP 12.9 °C</text>
<text transform="scale(0.9167 1)" x="746.18" y="606" fill="#000">0.6hPa/3h</text>
<text transform="scale(0.9167 1)" x="746.18" y="622" fill="#000">0.0hPa/1h</text>
<rect x="342" y="502" width="2" height="13" fill="#ffff00"/>
<rect x="347" y="502" width="2" height="13" fill="#808080"/>
<rect x="584" y="502" width="2" height="13" fill="#ffff00"/>
<rect x="592" y="502" width="2" height="13" fill="#808080"/>
<rect x="233" y="502" width="2" height="13" fill="#000"/>
<circle cx="234.5" cy="531.5" r="4.5" fill="#000"/>
<path d="M231 529 Q230 531.5 231 534" stroke="#fff" stroke-width="0.8" fill="none"/>
<circle cx="343" cy="532" r="5" fill="#ffff99" opacity="0.6"/>
<circle cx="343" cy="531.5" r="3.3" fill="#ffff00"/>
<rect x="343.5" y="526.5" width="5" height="5" fill="#fff" stroke="#c8c8ff" stroke-width="0.8"/>
<rect x="343.0" y="526.0" width="1.2" height="1.2" fill="#2020c0"/>
<rect x="348.0" y="526.0" width="1.2" height="1.2" fill="#2020c0"/>
<rect x="343.0" y="531.0" width="1.2" height="1.2" fill="#2020c0"/>
<path d="M350.5 528 L353.5 533.5 L352 533.5 L352 537 L349 537 L349 533.5 L347.5 533.5 Z" fill="#ffff00"/>
<path d="M350.5 528 L347.5 533.5" stroke="#000" stroke-width="1" fill="none"/>
<path d="M350.5 528 L353.5 533.5" stroke="#6060ff" stroke-width="0.8" fill="none"/>
<text transform="scale(0.9167 1)" x="338.18" y="536" fill="#000">07:25</text>
<text transform="scale(0.9167 1)" x="386.18" y="536" fill="#000">07:41</text>
<text transform="scale(0.9167 1)" x="602.18" y="536" fill="#000">19:03</text>
<rect x="582.5" y="529.5" width="5" height="5" fill="#fff" stroke="#ffff60" stroke-width="1"/>
<path d="M590 526 L593 526 L593 528 L595 528 L591.5 534.5 L588 528 L590 528 Z" fill="#ffff00"/>
<path d="M595 528 L591.5 534.5" stroke="#000" stroke-width="1" fill="none"/>
<path d="M588 528 L591.5 534.5" stroke="#6060ff" stroke-width="0.8" fill="none"/>
<rect x="593.0" y="533.0" width="1" height="1" fill="#4040c0" opacity="0.7"/>
<rect x="598.0" y="533.0" width="1" height="1" fill="#4040c0" opacity="0.7"/>
<rect x="593.0" y="535.5" width="1" height="1" fill="#4040c0" opacity="0.7"/>
<rect x="598.0" y="535.5" width="1" height="1" fill="#4040c0" opacity="0.7"/>
<text transform="scale(0.9167 1)" x="652.36" y="536" fill="#000">19:27</text>
<path d="M40 535 L40 533 Q41 529.5 44.5 529 Q48 529.5 49 533 L49 535 Z" fill="#ffff00"/>
<text transform="scale(0.9167 1)" x="10.91" y="536" fill="#000">11:37</text>
</svg></body></html>
